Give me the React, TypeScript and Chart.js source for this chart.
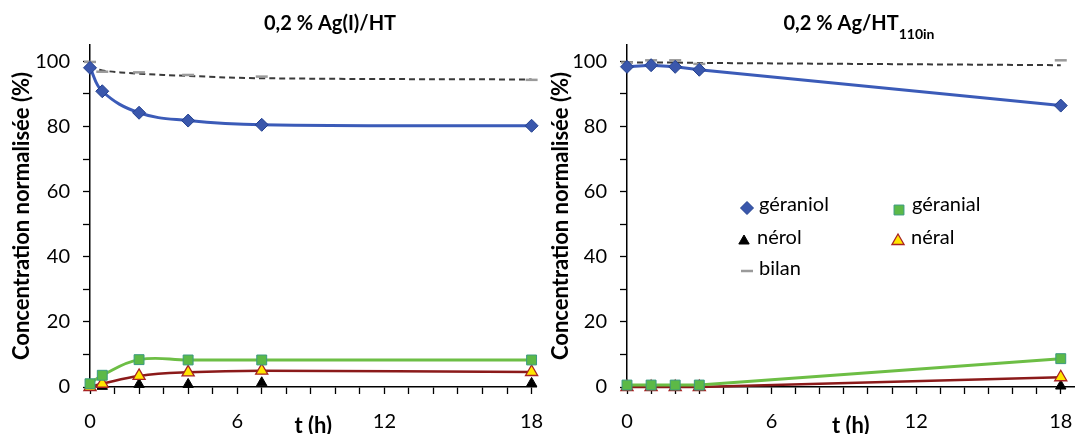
import React, { useEffect, useRef } from 'react';
import { Chart, registerables } from 'chart.js';
import { drawPoint } from 'chart.js/helpers';

Chart.register(...registerables);

const FONT = 'Lato, "Open Sans", sans-serif';

// ---------- Data ----------
const seriesNames = ['géraniol', 'géranial', 'nérol', 'néral', 'bilan'];
const xTitle = 't (h)';
const yTitle = 'Concentration normalisée (%)';
const xTickLabels = [0, 6, 12, 18];
const yTickLabels = [0, 20, 40, 60, 80, 100];

// Panel A : 0,2 % Ag(I)/HT
const titleA = '0,2 % Ag(I)/HT';
const timesA = [0, 0.5, 2, 4, 7, 18];
const geraniolA = [98.0, 90.8, 84.2, 81.8, 80.5, 80.2];
const geranialA = [1.0, 3.6, 8.4, 8.3, 8.3, 8.3];
const nerolA = [0, 0.2, 0.8, 0.8, 1.3, 1.1];
const neralA = [0, 1.0, 3.4, 4.5, 5.0, 4.6];
const bilanA = [99.8, 96.8, 96.6, 95.8, 95.3, 94.3];
const bilanTrendA = [98.4, 97.2, 96.2, 95.5, 94.8, 94.4];

// Panel B : 0,2 % Ag/HT110in
const titleB = '0,2 % Ag/HT';
const titleBSub = '110in';
const timesB = [0, 1, 2, 3, 18];
const geraniolB = [98.3, 98.8, 98.3, 97.4, 86.4];
const geranialB = [0.6, 0.6, 0.6, 0.6, 8.7];
const nerolB = [0, 0, 0, 0, 0.3];
const neralB = [0, 0, 0, 0, 3.0];
const bilanB = [99.6, 100.3, 100.3, 99.2, 100.3];
const bilanTrendB = [99.7, 99.6, 99.6, 99.5, 98.8];

// ---------- Styles ----------
const COLORS = {
  geraniolLine: '#3B5BB8',
  geraniolFill: '#3A57AC',
  geraniolBorder: '#22408F',
  geranialLine: '#6DBE45',
  geranialFill: '#5CB947',
  geranialBorder: '#3A9A80',
  neralLine: '#8B1A1A',
  neralFill: '#FFE600',
  neralBorder: '#A82222',
  nerol: '#000000',
  bilanMarker: '#9A9A9A',
  bilanLine: '#3A3A3A',
};

function pts(times: number[], vals: number[]) {
  return vals.map((y, i) => ({ x: times[i], y }));
}

function buildDatasets(times: number[], ger: number[], gal: number[], nerol: number[], neral: number[], bilan: number[], trend: number[], tension: number) {
  return [
    {
      label: seriesNames[0], data: pts(times, ger), order: 1, clip: false, tension,
      borderColor: COLORS.geraniolLine, borderWidth: 3,
      pointStyle: 'rectRot', pointRadius: 6.5, pointBackgroundColor: COLORS.geraniolFill,
      pointBorderColor: COLORS.geraniolBorder, pointBorderWidth: 1,
    },
    {
      label: seriesNames[1], data: pts(times, gal), order: 2, clip: false, tension,
      borderColor: COLORS.geranialLine, borderWidth: 3,
      pointStyle: 'rect', pointRadius: 7, pointBackgroundColor: COLORS.geranialFill,
      pointBorderColor: COLORS.geranialBorder, pointBorderWidth: 1,
    },
    {
      label: seriesNames[2], data: pts(times, nerol), order: 4, clip: false, showLine: false,
      pointStyle: 'triangle', pointRadius: 6, pointBackgroundColor: COLORS.nerol,
      pointBorderColor: COLORS.nerol, pointBorderWidth: 1,
    },
    {
      label: seriesNames[3], data: pts(times, neral), order: 3, clip: false, tension,
      borderColor: COLORS.neralLine, borderWidth: 2.5,
      pointStyle: 'triangle', pointRadius: 7, pointBackgroundColor: COLORS.neralFill,
      pointBorderColor: COLORS.neralBorder, pointBorderWidth: 1.3,
    },
    {
      label: seriesNames[4], data: pts(times, bilan), order: 5, clip: false, showLine: false,
      pointStyle: 'line', pointRadius: 6, pointBackgroundColor: COLORS.bilanMarker,
      pointBorderColor: COLORS.bilanMarker, pointBorderWidth: 2.5,
    },
    {
      label: 'bilan (courbe)', data: pts(times, trend), order: 6, clip: false, tension,
      borderColor: COLORS.bilanLine, borderWidth: 2, borderDash: [6, 4], pointRadius: 0,
    },
  ];
}

type PanelCfg = {
  left: number;
  width: number;
  datasets: any[];
  xMax: number;
  axisX: number;
  plotRight: number;
  yTitleX: number;
  title: string;
  titleSub?: string;
  titleX: number;
  legend?: { ds: number; mx: number; my: number; tx: number; ty: number }[];
};

function overlayPlugin(cfg: PanelCfg) {
  return {
    id: 'overlay',
    afterDraw(chart: any) {
      const ctx = chart.ctx as CanvasRenderingContext2D;
      ctx.save();
      ctx.fillStyle = '#000';
      ctx.textBaseline = 'alphabetic';
      const mainFont = `bold 20px ${FONT}`;
      const subFont = `bold 14px ${FONT}`;
      ctx.font = mainFont;
      const mw = ctx.measureText(cfg.title).width;
      let sw = 0;
      if (cfg.titleSub) {
        ctx.font = subFont;
        sw = ctx.measureText(cfg.titleSub).width;
      }
      const x0 = cfg.titleX - cfg.left - (mw + sw) / 2;
      ctx.font = mainFont;
      ctx.textAlign = 'left';
      ctx.fillText(cfg.title, x0, 30);
      if (cfg.titleSub) {
        ctx.font = subFont;
        ctx.fillText(cfg.titleSub, x0 + mw, 38.5);
      }
      if (cfg.legend) {
        for (const it of cfg.legend) {
          const ds = chart.data.datasets[it.ds];
          ctx.fillStyle = ds.pointBackgroundColor;
          ctx.strokeStyle = ds.pointBorderColor;
          ctx.lineWidth = ds.pointBorderWidth;
          drawPoint(ctx, { pointStyle: ds.pointStyle, radius: ds.pointRadius, rotation: 0, borderWidth: ds.pointBorderWidth } as any, it.mx - cfg.left, it.my);
          ctx.fillStyle = '#000';
          ctx.font = `20px ${FONT}`;
          ctx.fillText(ds.label, it.tx - cfg.left, it.ty);
        }
      }
      ctx.restore();
    },
  };
}

function Panel({ cfg }: { cfg: PanelCfg }) {
  const ref = useRef<HTMLCanvasElement>(null);
  useEffect(() => {
    const tickFont = { family: FONT, size: 20, lineHeight: 1.2 };
    const titleFont = { family: FONT, size: 22, weight: 'bold' as const, lineHeight: 1.2 };
    const chart = new Chart(ref.current!, {
      type: 'line',
      data: { datasets: cfg.datasets },
      options: {
        responsive: false,
        animation: false,
        events: [],
        layout: { padding: { top: 45, left: 0, bottom: 0, right: cfg.left + cfg.width - cfg.plotRight } },
        plugins: { legend: { display: false }, tooltip: { enabled: false }, title: { display: false } },
        scales: {
          x: {
            type: 'linear',
            min: 0,
            max: cfg.xMax,
            afterFit: (s: any) => { s.height = 434 - 387; s.paddingLeft = 0; s.paddingRight = 0; },
            ticks: {
              stepSize: 1,
              includeBounds: false,
              autoSkip: false,
              maxRotation: 0,
              padding: 15.5,
              color: '#000',
              font: tickFont,
              callback: (v: any) => (xTickLabels.includes(Number(v)) ? String(v) : ''),
            },
            grid: { drawOnChartArea: false, drawTicks: true, tickLength: 7, tickColor: '#000', tickWidth: 1.3 },
            border: { display: true, color: '#000', width: 1.5 },
            title: { display: true, text: xTitle, color: '#000', font: titleFont, padding: { top: 0, bottom: -5.2 } },
          },
          y: {
            type: 'linear',
            min: 0,
            max: 105,
            afterFit: (s: any) => { s.width = cfg.axisX - cfg.left; s.paddingTop = 0; s.paddingBottom = 0; },
            ticks: {
              stepSize: 10,
              includeBounds: false,
              autoSkip: false,
              padding: 13,
              color: '#000',
              font: tickFont,
              callback: (v: any) => (yTickLabels.includes(Number(v)) ? String(v) : ''),
            },
            grid: { drawOnChartArea: false, drawTicks: true, tickLength: 7, tickColor: '#000', tickWidth: 1.3 },
            border: { display: true, color: '#000', width: 1.5 },
            title: { display: true, text: yTitle, color: '#000', font: titleFont, padding: { top: cfg.yTitleX - cfg.left - 13.2, bottom: 0 } },
          },
        },
      } as any,
      plugins: [overlayPlugin(cfg)],
    });
    return () => chart.destroy();
  }, []);
  return (
    <canvas
      ref={ref}
      width={cfg.width}
      height={434}
      style={{ position: 'absolute', left: cfg.left, top: 0, width: cfg.width, height: 434 }}
    />
  );
}

const panelA: PanelCfg = {
  left: 0,
  width: 545,
  datasets: buildDatasets(timesA, geraniolA, geranialA, nerolA, neralA, bilanA, bilanTrendA, 0.4),
  xMax: 18.2,
  axisX: 90,
  plotRight: 538,
  yTitleX: 22,
  title: titleA,
  titleX: 330,
};

const panelB: PanelCfg = {
  left: 545,
  width: 538,
  datasets: buildDatasets(timesB, geraniolB, geranialB, nerolB, neralB, bilanB, bilanTrendB, 0),
  xMax: 18.57,
  axisX: 627,
  plotRight: 1083,
  yTitleX: 561,
  title: titleB,
  titleSub: titleBSub,
  titleX: 859,
  legend: [
    { ds: 0, mx: 747, my: 208, tx: 759, ty: 211 },
    { ds: 1, mx: 899, my: 210, tx: 912, ty: 211 },
    { ds: 2, mx: 744, my: 241, tx: 757, ty: 244 },
    { ds: 3, mx: 898, my: 241, tx: 911, ty: 244 },
    { ds: 4, mx: 747, my: 271, tx: 759, ty: 275 },
  ],
};

export default function App() {
  return (
    <div style={{ position: 'absolute', left: 0, top: 0, width: 1083, height: 434, background: '#fff' }}>
      <Panel cfg={panelA} />
      <Panel cfg={panelB} />
    </div>
  );
}
